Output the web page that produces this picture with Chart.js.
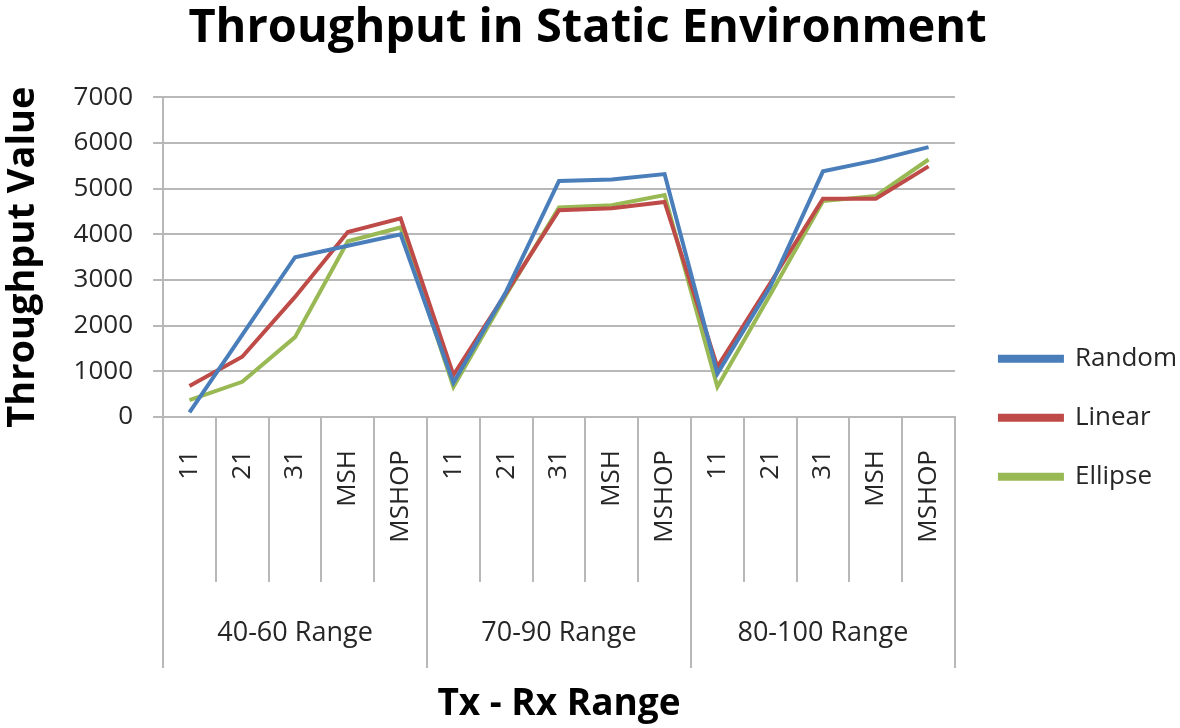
<!DOCTYPE html>
<html>
<head>
<meta charset="utf-8">
<script src="https://cdn.jsdelivr.net/npm/chart.js@4"></script>
<style>
  html, body { margin: 0; padding: 0; background: #fff; }
  #wrap { width: 1180px; height: 728px; }
</style>
</head>
<body>
<div id="wrap"><canvas id="throughput-chart"></canvas></div>
<script>
const groupLabels = ['40-60 Range', '70-90 Range', '80-100 Range'];
const subLabels = ['11', '21', '31', 'MSH', 'MSHOP'];
const yTicks = [0, 1000, 2000, 3000, 4000, 5000, 6000, 7000];

const random = [100, 1800, 3500, 3750, 4000, 750, 2750, 5170, 5200, 5320, 950, 2850, 5380, 5620, 5910];
const linear = [680, 1320, 2630, 4050, 4350, 920, 2720, 4530, 4570, 4710, 1100, 2930, 4780, 4780, 5490];
const ellipse = [370, 770, 1750, 3850, 4150, 660, 2680, 4590, 4640, 4860, 660, 2680, 4730, 4840, 5640];

// one label per point: the sub-labels repeat inside each group
const labels = [];
groupLabels.forEach(() => subLabels.forEach(s => labels.push(s)));

const gridColor = '#b8b8b8';
const textColor = '#262626';

function series(label, data, color) {
    return {
        label: label,
        data: data,
        borderColor: color,
        backgroundColor: color,
        borderWidth: 4,
        pointRadius: 0,
        tension: 0
    };
}

// move the legend items a little away from the plot
const legendNudge = {
    id: 'legendNudge',
    afterLayout(chart) {
        chart.legend.left += 12;
    }
};

var ctx = document.getElementById('throughput-chart').getContext('2d');
new Chart(ctx, {
    type: 'line',
    data: {
        labels: labels,
        datasets: [
            series('Random', random, '#4a7ebb'),
            series('Linear', linear, '#be4b48'),
            series('Ellipse', ellipse, '#98b954')
        ]
    },
    plugins: [legendNudge],
    options: {
        responsive: true,
        maintainAspectRatio: false,
        animation: false,
        layout: { padding: { left: 0, right: 5, bottom: 1 } },
        plugins: {
            title: {
                display: true,
                text: 'Throughput in Static Environment',
                color: '#000',
                font: { family: 'Open Sans', size: 47, weight: 'bold' },
                padding: { top: 0, bottom: 41 }
            },
            legend: {
                position: 'right',
                title: {
                    display: true,
                    text: ' ',
                    font: { size: 2 },
                    padding: { top: 106, bottom: 0 }
                },
                labels: {
                    boxWidth: 62,
                    boxHeight: 4,
                    padding: 33,
                    color: textColor,
                    font: { family: 'Open Sans', size: 26 }
                }
            },
            tooltip: { enabled: false }
        },
        scales: {
            y: {
                min: 0,
                max: 7000,
                afterBuildTicks: scale => {
                    scale.ticks = yTicks.map(v => ({ value: v }));
                },
                grid: { color: gridColor, lineWidth: 2, tickLength: 10 },
                border: { color: gridColor, width: 2 },
                ticks: {
                    color: textColor,
                    padding: 20,
                    font: { family: 'Open Sans', size: 26 },
                    callback: v => String(v)
                },
                title: {
                    display: true,
                    text: 'Throughput Value',
                    color: '#000',
                    font: { family: 'Open Sans', size: 38, weight: 'bold' },
                    padding: { top: 0, bottom: 8 }
                }
            },
            x: {
                type: 'category',
                offset: true,
                grid: {
                    offset: true,
                    drawOnChartArea: false,
                    tickLength: 165,
                    color: gridColor,
                    lineWidth: 2
                },
                border: { color: gridColor, width: 2 },
                ticks: {
                    autoSkip: false,
                    minRotation: 90,
                    maxRotation: 90,
                    padding: -132,
                    color: textColor,
                    font: { family: 'Open Sans', size: 26 }
                },
                afterFit: scale => { scale.height = 165; }
            },
            x2: {
                type: 'category',
                labels: groupLabels,
                position: 'bottom',
                offset: true,
                grid: {
                    offset: true,
                    drawOnChartArea: false,
                    tickLength: 86,
                    color: gridColor,
                    lineWidth: 2
                },
                border: { display: false },
                ticks: {
                    padding: -51,
                    color: textColor,
                    font: { family: 'Open Sans', size: 27 }
                },
                title: {
                    display: true,
                    text: 'Tx - Rx Range',
                    color: '#000',
                    font: { family: 'Open Sans', size: 37, weight: 'bold' },
                    padding: { top: 6, bottom: 0 }
                },
                afterFit: scale => { scale.height = 86 + 59; }
            }
        }
    }
});
</script>
</body>
</html>
